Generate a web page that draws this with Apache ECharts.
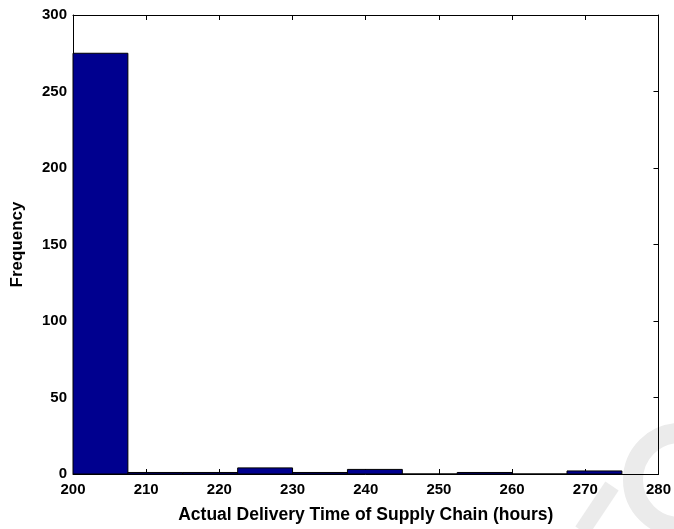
<!DOCTYPE html>
<html>
<head>
<meta charset="utf-8">
<script src="https://cdn.jsdelivr.net/npm/echarts@6/dist/echarts.min.js"></script>
<style>html,body{margin:0;padding:0;background:#fff}#c{width:674px;height:529px}</style>
</head>
<body>
<div id="c"></div>
<script>
var binStarts = [200, 207.5, 215, 222.5, 230, 237.5, 245, 252.5, 260, 267.5];
var binEnds   = [207.5, 215, 222.5, 230, 237.5, 245, 252.5, 260, 267.5, 275];
var counts    = [275, 1, 1, 4, 1, 3, 0, 1, 0, 2];
var xTicks = [200, 210, 220, 230, 240, 250, 260, 270, 280];
var yTicks = [0, 50, 100, 150, 200, 250, 300];

var data = binStarts.map(function (s, i) { return [s, binEnds[i], counts[i]]; });
var font = 'Liberation Sans, Arial, sans-serif';
var chart = echarts.init(document.getElementById('c'));
var axisCommon = {
  axisLine: { show: true, onZero: false, lineStyle: { color: '#000', width: 1 } },
  axisTick: { show: true, inside: true, length: 5, lineStyle: { color: '#000' } },
  splitLine: { show: false }
};
chart.setOption({
  animation: false,
  backgroundColor: '#fff',
  grid: { left: 73, right: 13, top: 15, bottom: 52 },
  xAxis: [
    Object.assign({
      type: 'value', min: xTicks[0], max: xTicks[xTicks.length - 1], interval: 10, position: 'bottom',
      name: 'Actual Delivery Time of Supply Chain (hours)', nameLocation: 'middle', nameGap: 32,
      nameTextStyle: { fontFamily: font, fontWeight: 'bold', fontSize: 17.5, color: '#000' },
      axisLabel: { fontFamily: font, fontWeight: 'bold', fontSize: 15, color: '#000', margin: 8 }
    }, axisCommon),
    Object.assign({
      type: 'value', min: xTicks[0], max: xTicks[xTicks.length - 1], interval: 10, position: 'top',
      axisLabel: { show: false }
    }, axisCommon)
  ],
  yAxis: [
    Object.assign({
      type: 'value', min: yTicks[0], max: yTicks[yTicks.length - 1], interval: 50, position: 'left',
      name: 'Frequency', nameLocation: 'middle', nameGap: 47, nameRotate: 90,
      nameTextStyle: { fontFamily: font, fontWeight: 'bold', fontSize: 17, color: '#000' },
      axisLabel: { fontFamily: font, fontWeight: 'bold', fontSize: 15, color: '#000', margin: 6 }
    }, axisCommon),
    Object.assign({
      type: 'value', min: yTicks[0], max: yTicks[yTicks.length - 1], interval: 50, position: 'right',
      axisLabel: { show: false }
    }, axisCommon)
  ],
  graphic: [
    { type: 'circle', shape: { cx: 680, cy: 480, r: 47 },
      style: { stroke: '#ebebeb', lineWidth: 20, fill: null }, z: -10 },
    { type: 'line', shape: { x1: 582, y1: 531, x2: 612, y2: 486 },
      style: { stroke: '#ebebeb', lineWidth: 16 }, z: -10 }
  ],
  series: [{
    type: 'custom',
    xAxisIndex: 0, yAxisIndex: 0,
    data: data,
    renderItem: function (params, api) {
      var p0 = api.coord([api.value(0), api.value(2)]);
      var p1 = api.coord([api.value(1), 0]);
      return {
        type: 'rect',
        shape: { x: p0[0], y: p0[1], width: p1[0] - p0[0], height: p1[1] - p0[1] },
        style: { fill: '#00008F', stroke: '#000', lineWidth: 1 }
      };
    }
  }]
});
</script>
</body>
</html>
